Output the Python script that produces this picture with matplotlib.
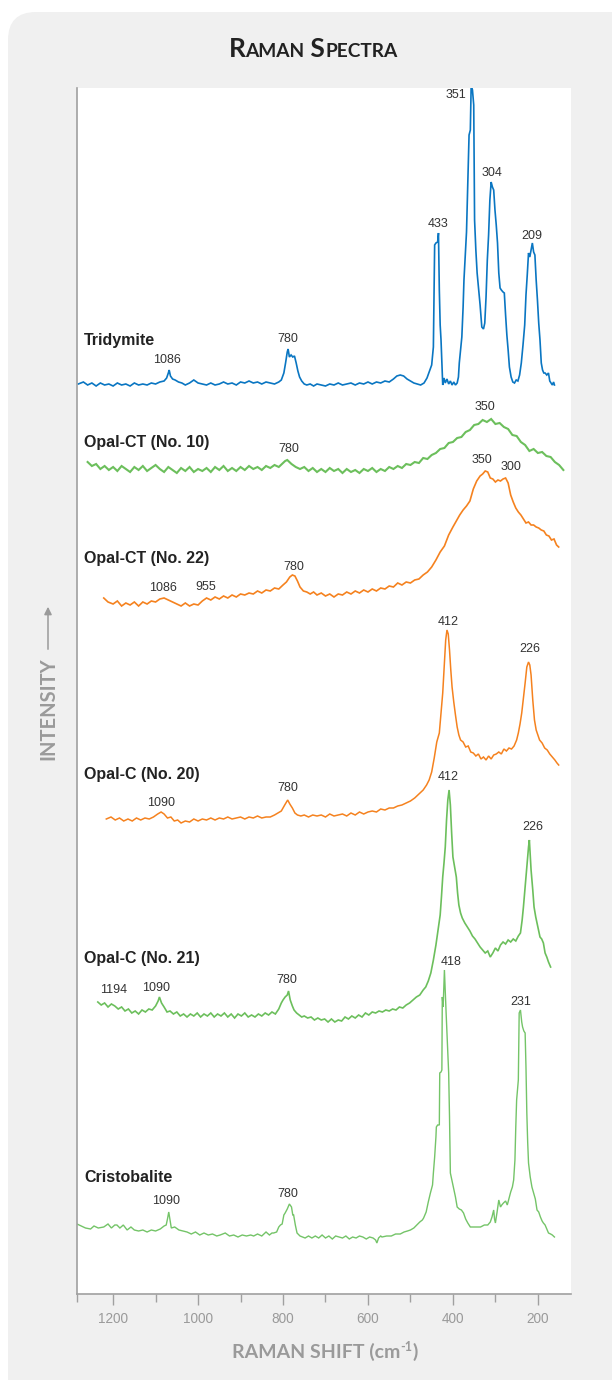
import matplotlib
matplotlib.use('Agg')
import matplotlib.pyplot as plt
from matplotlib.patches import FancyBboxPatch, FancyArrowPatch
from matplotlib.transforms import IdentityTransform

W, H = 612, 1380

# ---- spectra: wavenumber (cm-1) and height above each trace's baseline ----
tri_x = [1282,1270,1260,1250,1240,1230,1220,1210,1200,1190,1180,1170,1160,1150,1140,1130,1120,1110,1100,1090,
         1080,1074,1070,1068,1065,1060,1054,1046,1038,1030,1020,1010,1000,990,980,970,960,950,940,930,
         920,910,900,890,880,870,860,850,840,830,820,810,804,798,794,790,788,785,781,777,
         773,769,765,761,756,750,744,736,728,720,710,700,690,680,670,660,650,640,630,620,
         610,600,590,580,570,560,550,540,532,524,516,508,500,492,484,476,468,461,455,450,
         446,443,440,436,434,432,430,428,424,421,418,414,410,406,402,398,394,390,387,385,
         382,379,376,374,371,368,365,362,359,357,354,351,349,346,343,340,336,332,328,325,
         322,319,316,313,310,307,304,301,298,295,292,289,286,282,279,276,273,270,267,263,
         259,255,251,247,243,239,235,231,228,225,222,219,216,213,210,207,204,201,198,195,
         192,189,186,183,179,175,172,169,166,163,161]
tri_y = [1,3,0,2,-1,2,0,1,-1,2,0,1,-1,2,0,1,0,2,1,3,
         4,7,12,15,9,6,5,3,2,0,2,5,2,1,0,2,0,1,3,1,
         2,0,3,2,4,2,3,1,3,2,1,3,5,12,22,33,36,28,30,28,
         29,22,14,8,4,1,0,1,-1,1,0,-1,1,0,2,0,1,2,0,2,
         1,3,1,3,2,4,3,6,9,10,9,6,4,2,1,0,2,7,14,20,
         38,140,142,143,152,95,60,45,0,7,2,6,1,4,0,3,0,2,8,22,
         35,48,78,105,128,153,202,250,255,300,295,280,165,135,112,98,80,58,56,62,
         88,125,150,185,203,198,195,175,160,142,112,97,95,93,92,70,50,35,18,8,
         3,2,5,4,10,22,40,60,90,110,132,128,135,142,133,130,105,85,62,45,
         22,15,12,12,10,12,4,2,0,3,0]

ct10_x = [1260,1250,1240,1230,1220,1210,1200,1190,1180,1170,1160,1150,1140,1130,1120,1110,1100,1090,1080,1070,
          1060,1050,1040,1030,1020,1010,1000,990,980,970,960,950,940,930,920,910,900,890,880,870,
          860,850,840,830,820,810,800,795,790,785,780,770,760,750,740,730,720,710,700,690,
          680,670,660,650,640,630,620,610,600,590,580,570,560,550,540,530,520,510,500,490,
          480,470,460,450,440,430,420,410,400,390,380,370,360,350,340,330,320,310,300,290,
          280,270,260,250,240,230,220,210,200,190,180,170,160,150,140]
ct10_y = [8,4,6,1,4,0,3,-1,4,1,-2,3,0,4,-1,2,5,1,-2,3,
          0,-3,2,-1,3,-2,1,-1,2,-2,3,0,4,-1,2,-1,3,0,4,1,
          3,0,4,2,5,3,7,9,10,8,6,3,1,3,-1,2,-2,1,-2,2,
          -1,1,-3,1,-2,0,-3,1,-1,2,-2,1,-1,3,1,4,2,6,5,8,
          7,12,11,15,17,21,22,27,28,32,33,38,40,45,46,50,48,51,46,47,
          43,41,35,34,28,25,19,21,17,18,14,13,8,5,0]

ct22_x = [1222,1212,1200,1190,1180,1170,1160,1150,1140,1130,1120,1110,1100,1090,1080,1070,1060,1050,1040,1030,
          1020,1010,1000,990,980,970,960,950,940,930,920,910,900,890,880,870,860,850,840,830,
          820,810,800,792,784,778,772,766,760,752,744,736,728,720,710,700,690,680,670,660,
          650,640,630,620,610,600,590,580,570,560,550,540,530,520,510,500,490,480,470,460,
          450,440,430,420,410,400,392,384,376,368,360,352,344,336,330,324,318,312,306,300,
          294,288,282,276,270,264,258,252,246,240,234,228,222,216,210,204,198,192,186,180,
          174,168,162,156,151]
ct22_y = [7,3,1,4,-1,2,0,3,-1,3,1,4,3,6,7,5,3,1,-1,2,
          -1,1,0,4,7,5,8,6,9,7,10,8,11,10,12,11,14,12,15,14,
          17,16,20,23,28,30,29,24,18,14,13,11,13,10,12,9,11,8,11,10,
          13,11,14,12,15,13,16,14,17,16,19,18,22,20,23,22,25,26,30,33,
          38,45,53,59,70,78,84,90,95,99,104,116,124,129,131,134,133,127,126,123,
          125,124,126,127,122,110,103,97,93,90,86,82,83,80,80,78,77,75,74,70,
          69,65,66,60,58]

c20_x = [1216,1205,1195,1185,1175,1165,1155,1145,1135,1125,1115,1105,1095,1087,1080,1072,1064,1056,1048,1040,
         1030,1020,1010,1000,990,980,970,960,950,940,930,920,910,900,890,880,870,860,850,840,
         830,820,812,804,796,789,784,778,772,766,758,750,740,730,720,710,700,690,680,670,
         660,650,640,630,620,610,600,590,580,570,560,550,540,530,520,510,500,490,480,470,
         462,456,450,444,438,432,428,424,420,417,414,411,408,405,402,398,394,390,386,382,
         376,370,364,358,352,346,340,334,328,322,316,310,304,298,292,286,280,274,268,262,
         256,250,246,242,238,234,230,226,222,219,216,212,208,204,200,196,190,184,178,172,
         166,160,155,151]
c20_y = [1,3,0,2,-1,1,-1,2,0,2,1,3,6,8,6,2,3,-1,0,-3,
         -1,-2,1,-1,1,0,2,0,2,1,3,1,2,3,1,3,2,4,2,3,
         3,5,7,9,15,20,16,12,7,5,4,5,3,5,4,5,3,6,4,5,
         6,4,7,5,8,6,8,9,8,11,10,12,12,14,15,17,19,22,26,30,
         35,40,48,62,78,87,107,127,157,180,190,186,170,150,133,118,105,93,85,80,
         78,73,74,68,67,64,66,61,63,60,64,61,65,66,68,66,71,69,72,71,
         74,80,87,96,107,122,137,153,158,155,145,120,100,90,85,80,77,72,70,66,
         63,60,57,55]

c21_x = [1236,1228,1220,1212,1204,1196,1188,1180,1172,1164,1156,1148,1140,1132,1124,1116,1108,1100,1094,1091,
         1086,1080,1073,1066,1058,1050,1042,1034,1026,1018,1010,1002,994,986,978,970,962,954,946,938,
         930,922,914,906,898,890,882,874,866,858,850,842,834,826,818,810,804,800,795,790,
         787,783,778,774,768,762,756,750,742,734,726,718,710,702,694,686,678,670,662,654,
         646,638,630,622,614,606,598,590,582,574,566,558,550,542,534,526,518,510,502,494,
         486,478,470,464,458,452,446,440,434,430,427,424,421,418,415,412,409,406,403,400,
         396,392,389,386,382,378,372,366,360,354,348,342,336,330,324,318,312,306,300,294,
         288,282,276,270,264,258,252,246,241,237,234,230,226,222,220,218,216,212,209,205,
         202,198,195,191,187,183,179,175,170]
c21_y = [13,10,12,8,11,9,6,8,4,6,2,4,1,5,3,6,5,9,14,18,
         12,8,3,4,1,3,-1,1,-2,1,-1,2,-2,1,-1,2,-2,1,-1,2,
         -2,1,-3,1,-1,2,-2,0,-2,1,-1,2,0,3,1,6,12,15,18,20,
         24,15,9,5,2,0,-2,-1,-3,-2,-5,-3,-5,-4,-7,-4,-7,-5,-6,-2,
         -4,-1,-3,0,-2,2,0,3,2,4,3,5,4,6,5,8,7,10,12,15,
         18,20,25,28,34,42,55,70,88,100,118,138,152,168,195,215,225,210,182,158,
         148,138,122,110,102,97,92,88,84,79,76,72,68,65,62,64,58,62,67,64,
         70,73,71,75,73,76,74,79,82,95,108,128,148,168,175,160,145,125,108,98,
         92,84,78,76,72,62,58,53,48]

cri_x = [1285,1275,1265,1253,1245,1235,1222,1212,1204,1196,1191,1184,1176,1167,1158,1150,1140,1130,1120,1110,
         1100,1089,1080,1075,1072,1069,1066,1063,1055,1045,1035,1026,1016,1006,996,986,976,966,956,948,
         936,926,916,906,896,886,876,869,860,850,840,832,826,822,815,810,806,802,798,795,
         790,785,780,777,775,771,767,760,748,740,732,724,716,708,700,692,684,676,668,660,
         652,644,636,628,620,612,604,596,588,582,579,575,570,567,556,545,535,524,515,507,
         500,492,485,478,472,469,463,458,453,448,446,443,440,439,436,432,431,428,426,425,
         423,420,418,416,413,410,408,406,403,399,394,390,385,380,375,370,365,359,350,343,
         335,326,318,312,308,304,302,300,296,292,288,285,281,276,272,269,264,260,257,254,
         252,250,246,244,241,238,236,233,230,228,226,224,222,218,214,210,206,202,198,194,
         190,187,183,179,175,170,166,161]
cri_y = [13,11,9,8,11,9,10,13,9,12,12,9,12,7,10,7,6,7,5,7,
         6,8,11,12,18,25,17,9,10,7,6,5,3,5,2,4,2,3,1,2,
         4,1,2,0,2,1,2,1,3,1,5,2,4,4,5,10,12,13,22,24,
         28,33,30,22,22,12,4,1,-1,1,-1,1,-1,2,-1,1,-2,1,0,-1,
         1,-2,0,-1,1,0,-2,0,-1,-3,-6,-1,1,0,1,1,3,3,5,6,
         7,9,12,15,17,19,25,35,44,52,64,80,100,110,112,112,164,165,167,240,
         230,267,245,224,195,164,120,64,58,50,40,30,28,27,24,18,14,10,10,10,
         10,12,12,15,20,27,18,14,25,37,30,32,34,36,32,37,45,50,57,77,
         110,137,157,224,227,215,210,206,204,170,124,95,74,60,50,44,38,27,25,20,
         16,14,12,8,4,3,2,0]

names = ['Tridymite', 'Opal-CT (No. 10)', 'Opal-CT (No. 22)',
         'Opal-C (No. 20)', 'Opal-C (No. 21)', 'Cristobalite']
spectra = [(tri_x, tri_y), (ct10_x, ct10_y), (ct22_x, ct22_y),
           (c20_x, c20_y), (c21_x, c21_y), (cri_x, cri_y)]
peak_labels = [['1086', '780', '433', '351', '304', '209'],
               ['780', '350'],
               ['1086', '955', '780', '350', '300'],
               ['1090', '780', '412', '226'],
               ['1194', '1090', '780', '412', '226'],
               ['1090', '780', '418', '231']]
xticks = [1200, 1000, 800, 600, 400, 200]

# ---- layout (pixel positions in the 612x1380 frame) ----
offsets = [909, 824, 689, 474, 279, 57]
colors = ['#0a76c2', '#6cbf5c', '#f5821f', '#f5821f', '#6cbf5c', '#74c468']
widths = [1.2, 1.5, 1.2, 1.1, 1.2, 1.0]
name_y = [341, 442, 558, 774, 958, 1177]
peak_pos = [[(167, 360), (288, 339), (438, 224), (456, 95), (492, 173), (532, 236)],
            [(289, 449), (485, 407)],
            [(163, 588), (206, 587), (294, 567), (482, 460), (511, 467)],
            [(161, 803), (288, 788), (448, 622), (530, 649)],
            [(114, 990), (156, 988), (287, 980), (448, 777), (533, 827)],
            [(166, 1201), (288, 1194), (451, 962), (521, 1002)]]


def fpos(x, y):
    return x / W, 1 - y / H


def text_run(pieces, xc, yb, **kw):
    # lay out text pieces side by side, centred on xc; (string, size, rise)
    txts = []
    for s, fs, rise in pieces:
        txts.append(fig.text(0, 1 - (yb - rise) / H, s, fontsize=fs, va='baseline', ha='left', **kw))
    ws = [t.get_window_extent(renderer).width for t in txts]
    x0 = xc - sum(ws) / 2
    for t, w in zip(txts, ws):
        t.set_x(x0 / W)
        x0 += w


fig = plt.figure(figsize=(W / 100, H / 100), dpi=100)
fig.patch.set_facecolor('white')
renderer = fig.canvas.get_renderer()
panel = FancyBboxPatch((8, -40), 680, H - 12 + 40, boxstyle='round,pad=0,rounding_size=28',
                       transform=IdentityTransform(), facecolor='#f0f0f0', edgecolor='none', zorder=0)
fig.add_artist(panel)

ax = fig.add_axes([77 / W, (H - 1294) / H, (571 - 77) / W, (1294 - 88) / H])
ax.set_facecolor('white')
for (xs, ys), off, c, lw in zip(spectra, offsets, colors, widths):
    ax.plot(xs, [v + off for v in ys], color=c, lw=lw, solid_joinstyle='miter')

ax.set_xlim(1285, 122)
ax.set_ylim(0, 1206)
ax.set_yticks([])
ax.set_xticks(xticks)
ax.set_xticks([1285, 1100, 900, 700, 500, 300], minor=True)
ax.tick_params(axis='x', which='major', direction='out', length=8, width=1, color='#a0a0a0',
               labelsize=9.8, labelcolor='#9a9a9a', pad=5)
ax.tick_params(axis='x', which='minor', direction='out', length=6, width=1, color='#a0a0a0')
for lab in ax.get_xticklabels():
    lab.set_fontfamily('Liberation Sans')
for s in ['top', 'right']:
    ax.spines[s].set_visible(False)
for s in ['left', 'bottom']:
    ax.spines[s].set_color('#a0a0a0')
    ax.spines[s].set_linewidth(1.2)

# sample names and peak labels
for nm, ny in zip(names, name_y):
    fig.text(*fpos(84, ny), nm, ha='left', va='center', fontsize=11.5, fontweight='bold',
             family='Liberation Sans', color='#222222')
for labs, poss in zip(peak_labels, peak_pos):
    for t, (px, py) in zip(labs, poss):
        fig.text(*fpos(px, py), t, ha='center', va='center', fontsize=9,
                 family='Liberation Sans', color='#333333')

# title in small caps
text_run([('R', 19, 0), ('AMAN', 13.8, 0), (' S', 19, 0), ('PECTRA', 13.8, 0)], 313, 57,
         fontweight='bold', family='Lato', color='#222222')

# axis labels
text_run([('RAMAN SHIFT (cm', 14, 0), ('-1', 9, 7), (')', 14, 0)], 325, 1358,
         fontweight='bold', family='Lato', color='#9a9a9a')
fig.text(*fpos(48, 709), 'INTENSITY', ha='center', va='center', rotation=90, fontsize=14.5,
         fontweight='bold', family='Lato', color='#9a9a9a')
arrow = FancyArrowPatch(fpos(48, 652), fpos(48, 604), transform=fig.transFigure,
                        arrowstyle='-|>', mutation_scale=11, color='#9a9a9a', lw=1.1)
fig.add_artist(arrow)

fig.savefig('out.png', dpi=100)
